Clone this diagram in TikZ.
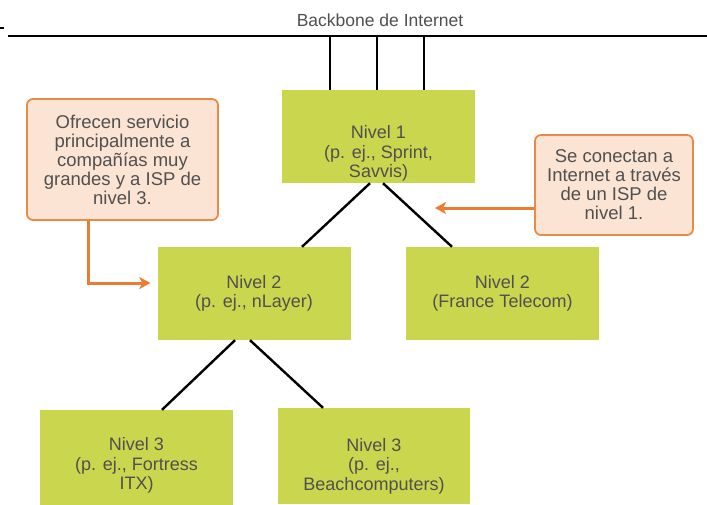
\documentclass[tikz,border=0pt]{standalone}
\usepackage{fontspec}
\setmainfont{Liberation Sans}
\usetikzlibrary{arrows.meta}
\definecolor{tiergreen}{RGB}{202,214,78}
\definecolor{calfill}{RGB}{252,228,212}
\definecolor{calborder}{RGB}{230,140,72}
\definecolor{arrorange}{RGB}{236,124,52}
\definecolor{txtgrey}{RGB}{80,80,80}
\tikzset{
  tier/.style={rectangle, fill=tiergreen, draw=none, minimum width=193pt, minimum height=93pt,
    align=center, text=txtgrey, font=\fontsize{18}{19.5}\selectfont, inner sep=0pt},
  callout/.style={rectangle, rounded corners=6pt, fill=calfill, draw=calborder, line width=1.8pt,
    align=center, text=txtgrey, font=\fontsize{18.5}{19}\selectfont, inner sep=0pt},
  link/.style={line width=2.4pt, black},
  oarrow/.style={line width=3pt, arrorange, -{Stealth[length=11pt,width=12pt,inset=3pt]}},
}
\begin{document}
\begin{tikzpicture}[x=1pt,y=-1pt]
\useasboundingbox[fill=white] (0,0) rectangle (707,504);
% small mark at top-left
\draw[line width=2pt] (0,28) -- (4,28);
% backbone
\coordinate (bbL) at (8,36);
\coordinate (bbR) at (707,36);
\draw[link, line width=2.6pt] (bbL) -- (bbR);
\node[text=txtgrey, font=\fontsize{17.5}{19}\selectfont] (bbtext) at (380,20) {Backbone de Internet};

% tiers
\node[tier] (t1) at (378.5,136.5) {\\[28pt]Nivel 1\\(p. ej., Sprint,\\Savvis)};
\node[tier] (t2a) at (254,293.5) {Nivel 2\\(p. ej., nLayer)};
\node[tier] (t2b) at (502.5,293.5) {Nivel 2\\(France Telecom)};
\node[tier, minimum height=96pt] (t3a) at (136.5,458) {\\[9pt]Nivel 3\\(p. ej., Fortress\\ITX)};
\node[tier, minimum width=192pt, minimum height=96pt] (t3b) at (374,456) {\\[14pt]Nivel 3\\(p. ej.,\\Beachcomputers)};

% backbone drops
\foreach \dx in {-48.5,-1.5,45.5}
  \draw[link] ([xshift=\dx pt]t1.north) -- ([xshift=\dx pt]t1.north |- bbL);

% links
\draw[link] ([xshift=-8.5pt]t1.south) -- ([xshift=48pt]t2a.north);
\draw[link] ([xshift=4.5pt]t1.south) -- ([xshift=-50.5pt]t2b.north);
\draw[link] ([xshift=-19pt]t2a.south) -- ([xshift=25.5pt]t3a.north);
\draw[link] ([xshift=-4pt]t2a.south) -- ([xshift=-51pt]t3b.north);

% callouts
\node[callout, minimum width=191pt, minimum height=121pt] (cL) at (122.5,159.5)
  {Ofrecen servicio\\principalmente a\\compañías muy\\grandes y a ISP de\\nivel 3.};
\node[callout, minimum width=158pt, minimum height=100pt] (cR) at (614,185)
  {Se conectan a\\Internet a través\\de un ISP de\\nivel 1.};

\coordinate (rtip) at (435,208);
\draw[oarrow] ([xshift=-34.5pt]cL.south) |- ([xshift=-7pt,yshift=10.5pt]t2a.west);
\draw[oarrow] ([yshift=-23pt]cR.west) -- (rtip);
\end{tikzpicture}
\end{document}
